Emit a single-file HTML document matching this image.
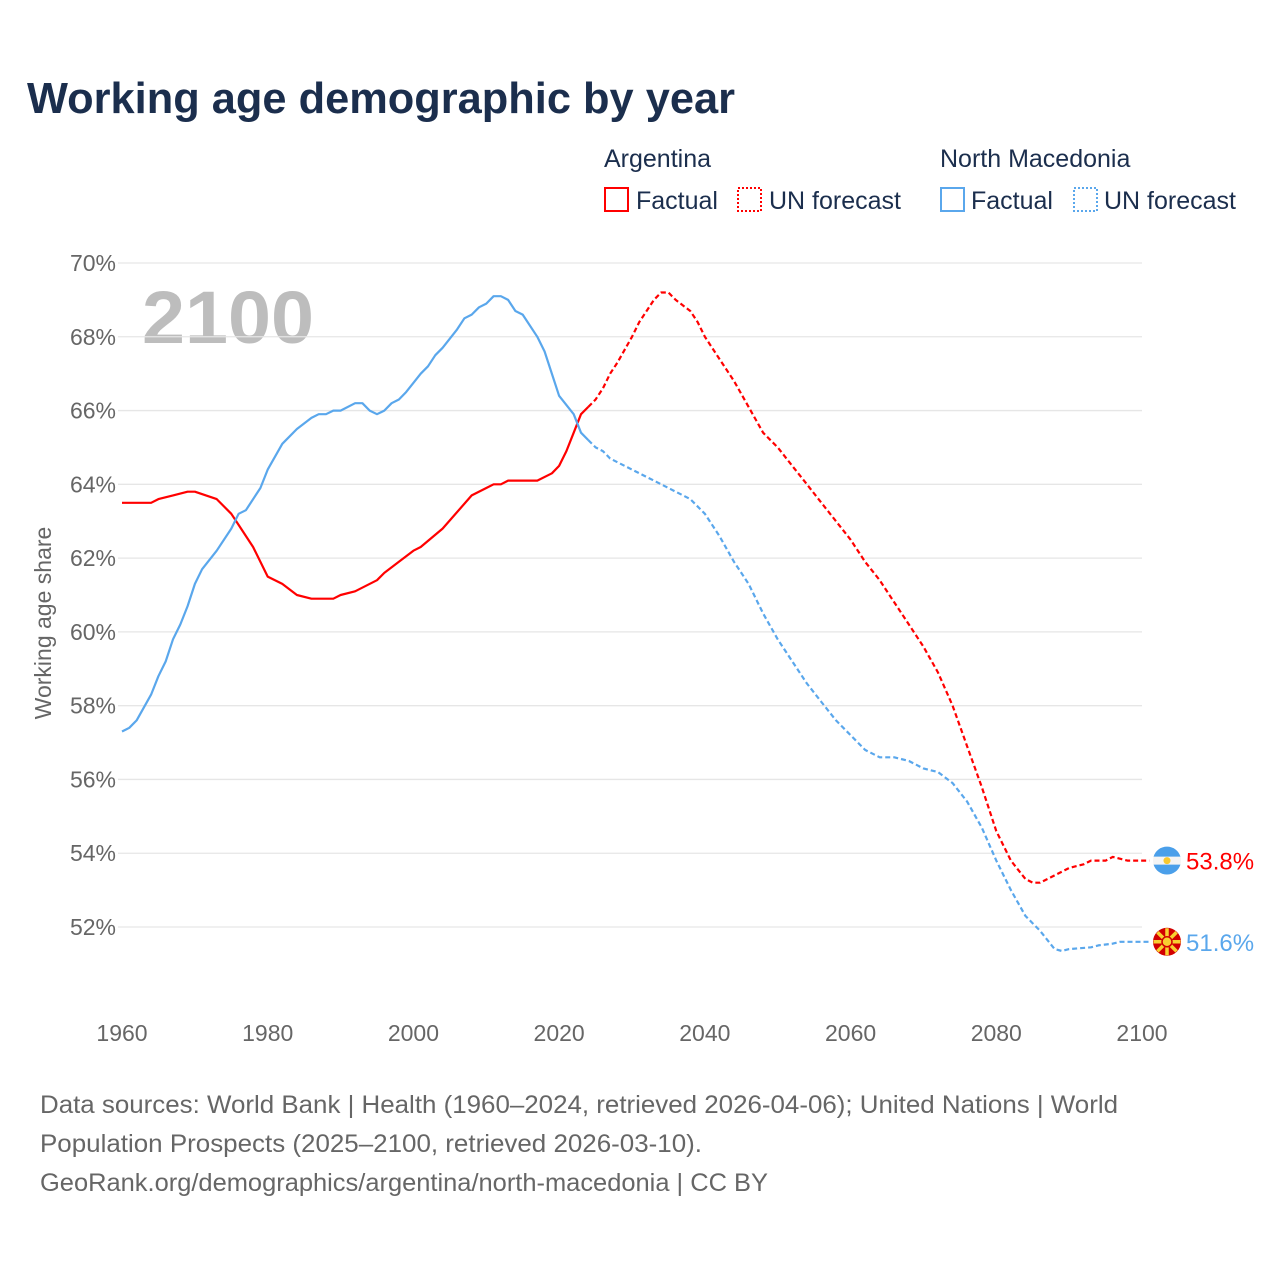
<!DOCTYPE html>
<html><head><meta charset="utf-8"><style>
body{margin:0;background:#fff;width:1280px;height:1280px;overflow:hidden;font-family:"Liberation Sans",sans-serif}
svg text{font-family:"Liberation Sans",sans-serif}
</style></head><body>
<svg id="c" width="1280" height="1280">
<text x="27" y="113" font-size="44" font-weight="bold" fill="#1b2e4d" textLength="708" lengthAdjust="spacingAndGlyphs">Working age demographic by year</text>
<g font-size="25" fill="#1b2e4d">
<text x="604" y="167">Argentina</text>
<text x="940" y="167">North Macedonia</text>
<g><rect x="605" y="188" width="23" height="23" fill="none" stroke="#f00" stroke-width="2"/><text x="636" y="209">Factual</text></g>
<g><rect x="738" y="188" width="23" height="23" fill="none" stroke="#f00" stroke-width="2" stroke-dasharray="2,2"/><text x="769" y="209">UN forecast</text></g>
<g><rect x="941" y="188" width="23" height="23" fill="none" stroke="#5aa7ec" stroke-width="2"/><text x="971" y="209">Factual</text></g>
<g><rect x="1074" y="188" width="23" height="23" fill="none" stroke="#5aa7ec" stroke-width="2" stroke-dasharray="2,2"/><text x="1104" y="209">UN forecast</text></g>
</g>
<text x="142" y="343" font-size="74" font-weight="bold" fill="#bdbdbd" textLength="172" lengthAdjust="spacingAndGlyphs">2100</text>
<text transform="translate(51,623) rotate(-90)" text-anchor="middle" font-size="23" fill="#666">Working age share</text>
<g id="grid"></g><g id="series"></g>
<g font-size="25" fill="#666">
<text x="40" y="1113" textLength="1078" lengthAdjust="spacingAndGlyphs">Data sources: World Bank | Health (1960–2024, retrieved 2026-04-06); United Nations | World</text>
<text x="40" y="1152" textLength="662" lengthAdjust="spacingAndGlyphs">Population Prospects (2025–2100, retrieved 2026-03-10).</text>
<text x="40" y="1191" textLength="728" lengthAdjust="spacingAndGlyphs">GeoRank.org/demographics/argentina/north-macedonia | CC BY</text>
</g>
</svg>
<script>
const yTicks=[52,54,56,58,60,62,64,66,68,70];
const xTicks=[1960,1980,2000,2020,2040,2060,2080,2100];
const argYears=[1960,1964,1965,1967,1969,1970,1973,1975,1976,1978,1980,1982,1984,1986,1989,1990,1992,1995,1996,1998,2000,2001,2004,2008,2010,2011,2012,2013,2017,2019,2020,2021,2022,2023,2024];
const argValues=[63.5,63.5,63.6,63.7,63.8,63.8,63.6,63.2,62.9,62.3,61.5,61.3,61.0,60.9,60.9,61.0,61.1,61.4,61.6,61.9,62.2,62.3,62.8,63.7,63.9,64.0,64.0,64.1,64.1,64.3,64.5,64.9,65.4,65.9,66.1];
const argFcYears=[2024,2025,2026,2027,2028,2030,2031,2032,2033,2034,2035,2036,2038,2039,2040,2042,2044,2046,2048,2050,2052,2054,2056,2058,2060,2062,2064,2066,2068,2070,2072,2074,2076,2078,2080,2082,2084,2085,2086,2088,2090,2092,2093,2095,2096,2098,2100,2101];
const argFcValues=[66.1,66.3,66.6,67.0,67.3,68.0,68.4,68.7,69.0,69.2,69.2,69.0,68.7,68.4,68.0,67.4,66.8,66.1,65.4,65.0,64.5,64.0,63.5,63.0,62.5,61.9,61.4,60.8,60.2,59.6,58.9,58.0,56.9,55.8,54.6,53.8,53.3,53.2,53.2,53.4,53.6,53.7,53.8,53.8,53.9,53.8,53.8,53.8];
const mkdYears=[1960,1961,1962,1964,1965,1966,1967,1968,1969,1970,1971,1973,1975,1976,1977,1979,1980,1982,1984,1986,1987,1988,1989,1990,1992,1993,1994,1995,1996,1997,1998,1999,2001,2002,2003,2004,2006,2007,2008,2009,2010,2011,2012,2013,2014,2015,2017,2018,2020,2022,2023,2024];
const mkdValues=[57.3,57.4,57.6,58.3,58.8,59.2,59.8,60.2,60.7,61.3,61.7,62.2,62.8,63.2,63.3,63.9,64.4,65.1,65.5,65.8,65.9,65.9,66.0,66.0,66.2,66.2,66.0,65.9,66.0,66.2,66.3,66.5,67.0,67.2,67.5,67.7,68.2,68.5,68.6,68.8,68.9,69.1,69.1,69.0,68.7,68.6,68.0,67.6,66.4,65.9,65.4,65.2];
const mkdFcYears=[2024,2025,2026,2027,2030,2033,2036,2038,2040,2042,2044,2046,2048,2050,2052,2054,2056,2058,2060,2062,2064,2066,2068,2070,2072,2074,2076,2078,2080,2082,2084,2086,2088,2089,2090,2093,2094,2096,2097,2100,2101];
const mkdFcValues=[65.2,65.0,64.9,64.7,64.4,64.1,63.8,63.6,63.2,62.6,61.9,61.3,60.5,59.8,59.2,58.6,58.1,57.6,57.2,56.8,56.6,56.6,56.5,56.3,56.2,55.9,55.4,54.7,53.8,53.0,52.3,51.9,51.4,51.35,51.4,51.45,51.5,51.55,51.6,51.6,51.6];
const X=y=>122+(y-1960)*1020/140;
const Y=v=>263+(70-v)*664/18;
const NS="http://www.w3.org/2000/svg";
function el(t,a,p){const e=document.createElementNS(NS,t);for(const k in a)e.setAttribute(k,a[k]);p.appendChild(e);return e;}
const grid=document.getElementById('grid'),ser=document.getElementById('series');
yTicks.forEach(v=>{
 const l=el('line',{x1:118,x2:1142,y1:Y(v),y2:Y(v),stroke:'#e6e6e6','stroke-width':1.3},grid);
 
 
 const t=el('text',{x:116,y:Y(v)+8,'text-anchor':'end','font-size':23,fill:'#666'},grid);t.textContent=v+'%';
 
 
});
xTicks.forEach(y=>{
 const t=el('text',{x:X(y),y:1041,'text-anchor':'middle','font-size':23,fill:'#666'},grid);t.textContent=y;
 
 
});
function line(xs,vs,col,dash,name){
 const p=el('path',{d:xs.map((x,i)=>(i?'L':'M')+X(x).toFixed(1)+','+Y(vs[i]).toFixed(1)).join(''),fill:'none',stroke:col,'stroke-width':2.2,'stroke-linejoin':'round'},ser);
 if(dash)p.setAttribute('stroke-dasharray','5,3');
 
 
}
line(argYears,argValues,'#f00',false,'argentina-factual-line');
line(argFcYears,argFcValues,'#f00',true,'argentina-forecast-line');
line(mkdYears,mkdValues,'#5aa7ec',false,'macedonia-factual-line');
line(mkdFcYears,mkdFcValues,'#5aa7ec',true,'macedonia-forecast-line');
const ay=Y(argFcValues[argFcValues.length-1]), my=Y(mkdFcValues[mkdFcValues.length-1]);
const fa=el('g',{},ser);


el('circle',{cx:1167,cy:ay,r:14,fill:'#f4f4f4'},fa);
el('path',{d:`M1153.6,${ay-4} A14,14 0 0 1 1180.4,${ay-4} Z`,fill:'#4a9fea'},fa);
el('path',{d:`M1153.6,${ay+4} A14,14 0 0 0 1180.4,${ay+4} Z`,fill:'#4a9fea'},fa);
el('circle',{cx:1167,cy:ay,r:3.5,fill:'#f8c830'},fa);
const fm=el('g',{},ser);


el('circle',{cx:1167,cy:my,r:14,fill:'#d20000'},fm);
for(let i=0;i<8;i++){const a=i*Math.PI/4;el('line',{x1:1167,y1:my,x2:1167+13.5*Math.cos(a),y2:my+13.5*Math.sin(a),stroke:'#f8d030','stroke-width':3.5},fm);}
el('circle',{cx:1167,cy:my,r:5,fill:'#f8d030',stroke:'#d20000','stroke-width':1.5},fm);
const la=el('text',{x:1186,y:ay+9,'font-size':24,fill:'#f00'},ser);la.textContent='53.8%';


const lm=el('text',{x:1186,y:my+9,'font-size':24,fill:'#5aa7ec'},ser);lm.textContent='51.6%';


</script>
</body></html>
